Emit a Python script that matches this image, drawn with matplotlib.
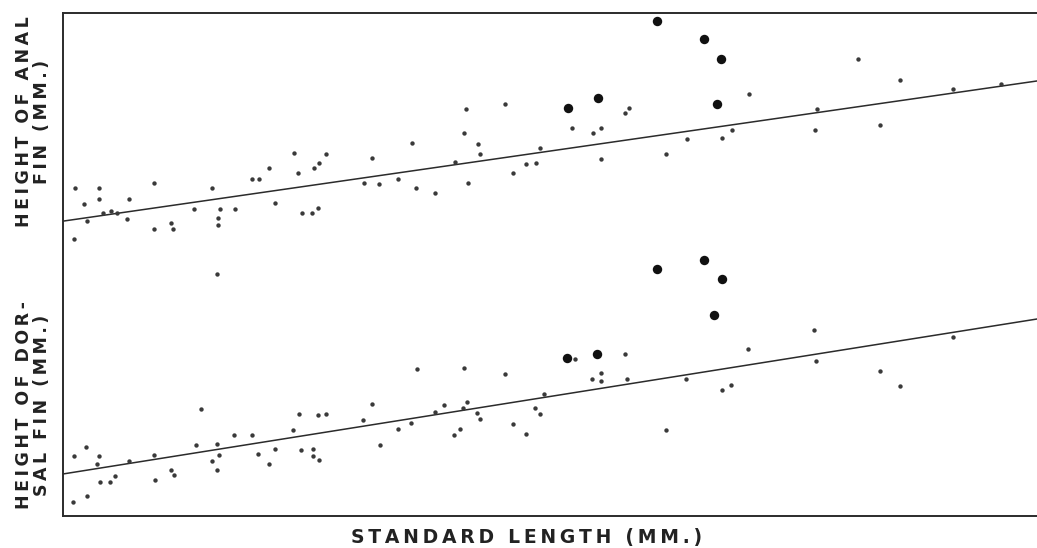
import numpy as np
import matplotlib
matplotlib.use("Agg")
import matplotlib.pyplot as plt

# =========================
# Data (arbitrary mm-like units)
# =========================
# height of anal fin - small dots
anal_len = [7.5, 8.4, 8.7, 9.9, 9.9, 10.3, 11.1, 11.7, 12.9, 12.7, 7.4, 15.4, 15.4, 17.1, 17.3,
            19.4, 21.2, 22.0, 21.8, 21.8, 23.5, 25.2, 25.9, 26.9, 27.5, 29.4, 29.8, 30.2, 31.2,
            31.8, 31.4, 31.9, 32.6, 46.6, 50.5, 62.5, 62.9, 57.2, 59.3, 60.1, 60.1, 46.4, 47.8,
            48.0, 45.5, 54.0, 52.6, 53.6, 51.3, 46.8, 37.2, 41.2, 36.4, 37.9, 39.8, 41.6, 43.5,
            66.6, 68.7, 74.9, 85.8, 90.0, 95.3, 100.1, 81.7, 81.5, 88.0, 72.2, 73.2]
anal_ht = [36.0, 34.4, 32.7, 36.0, 34.9, 33.5, 33.7, 33.5, 34.9, 32.9, 30.9, 36.5, 31.9, 32.5, 31.9,
           33.9, 36.0, 33.9, 33.0, 32.3, 33.9, 36.9, 36.9, 38.0, 34.5, 39.5, 37.5, 33.5, 33.5,
           34.0, 38.0, 38.5, 39.4, 43.9, 44.4, 43.5, 44.0, 42.0, 41.5, 42.0, 38.9, 41.5, 40.4,
           39.4, 38.6, 40.0, 38.4, 38.5, 37.5, 36.5, 39.0, 40.5, 36.5, 36.4, 36.9, 36.0, 35.5,
           39.4, 40.9, 45.4, 48.9, 46.8, 45.9, 46.4, 43.9, 41.8, 42.3, 41.0, 41.8]

# height of anal fin - large dots
anal_big_len = [65.7, 59.8, 56.8, 70.4, 72.1, 71.7]
anal_big_ht = [52.7, 45.0, 44.0, 50.9, 48.9, 44.4]

# height of dorsal fin - small dots
dorsal_len = [21.7, 7.4, 8.6, 9.9, 9.7, 10.0, 11.0, 11.5, 12.9, 7.3, 8.7, 15.4, 15.5, 17.1, 17.4,
              20.1, 19.6, 21.7, 21.2, 21.9, 21.7, 23.4, 25.2, 25.8, 26.9, 27.5, 29.3, 29.9, 30.1,
              31.3, 31.3, 31.9, 31.8, 32.6, 57.5, 62.5, 41.7, 46.4, 50.5, 59.2, 60.1, 60.1, 62.7,
              68.6, 54.4, 37.2, 36.3, 43.5, 44.4, 46.7, 46.3, 47.7, 48.0, 53.5, 54.0, 41.1, 39.8,
              46.0, 45.4, 51.3, 52.6, 38.0, 66.6, 81.4, 74.8, 81.6, 88.0, 90.0, 95.3, 72.2, 73.1]
dorsal_ht = [27.4, 9.2, 10.1, 9.2, 8.4, 6.6, 6.6, 7.2, 8.7, 4.6, 5.2, 9.3, 6.8, 7.8, 7.3,
             13.9, 10.3, 10.4, 8.7, 9.3, 7.8, 11.3, 11.3, 9.4, 8.4, 9.9, 11.8, 13.4, 9.8,
             9.9, 9.2, 8.8, 13.3, 13.4, 18.9, 19.4, 17.9, 18.0, 17.4, 16.9, 17.5, 16.7, 16.9,
             16.9, 15.4, 14.4, 12.8, 13.6, 14.3, 14.6, 14.0, 13.5, 12.9, 14.0, 13.4, 12.5, 11.9,
             11.9, 11.3, 12.4, 11.4, 10.3, 11.8, 21.8, 19.9, 18.7, 17.7, 16.2, 21.1, 15.8, 16.3]

# height of dorsal fin - large dots
dorsal_big_len = [65.7, 56.7, 59.7, 70.4, 72.2, 71.4]
dorsal_big_ht = [27.9, 19.0, 19.4, 28.8, 26.9, 23.3]

# fitted lines (intercept, slope)
anal_fit = (31.78, 0.1439)
dorsal_fit = (6.40, 0.1591)

X_MIN, X_MAX = 6.3, 103.7
Y_MIN, Y_MAX = 3.2, 53.5


def spaced(text):
    # wide letter spacing like the original lettering
    return "\n".join("\u2009".join(line) for line in text.split("\n"))


# =========================
# Plot
# =========================
fig = plt.figure(figsize=(10.37, 5.48), dpi=100)
ax = fig.add_axes([63 / 1037, 1 - 516 / 548, 1 - 63 / 1037, (516 - 13) / 548])

ink = "#2b2b2b"
ax.scatter(anal_len, anal_ht, s=10, color="#3a3a3a", linewidths=0, zorder=3)
ax.scatter(dorsal_len, dorsal_ht, s=10, color="#3a3a3a", linewidths=0, zorder=3)
ax.scatter(anal_big_len, anal_big_ht, s=46, color="#111111", linewidths=0, zorder=4)
ax.scatter(dorsal_big_len, dorsal_big_ht, s=46, color="#111111", linewidths=0, zorder=4)

xs = np.array([X_MIN, X_MAX])
ax.plot(xs, anal_fit[0] + anal_fit[1] * xs, color=ink, lw=1.1, zorder=2)
ax.plot(xs, dorsal_fit[0] + dorsal_fit[1] * xs, color=ink, lw=1.1, zorder=2)

ax.set_xlim(X_MIN, X_MAX)
ax.set_ylim(Y_MIN, Y_MAX)
ax.set_xticks([])
ax.set_yticks([])
ax.spines["right"].set_visible(False)
for side in ["left", "top", "bottom"]:
    ax.spines[side].set_color(ink)
    ax.spines[side].set_linewidth(1.4)

lab = dict(color="#222222", fontsize=12.5, fontweight="bold", rotation=90,
           ha="center", va="center", linespacing=1.0, multialignment="center")
fig.text(33 / 1037, 1 - 122 / 548, spaced("HEIGHT OF ANAL\nFIN (MM.)"), **lab)
fig.text(33 / 1037, 1 - 405 / 548, spaced("HEIGHT OF DOR-\nSAL FIN (MM.)"), **lab)
fig.text(527 / 1037, 1 - 538 / 548, spaced("STANDARD LENGTH (MM.)"), color="#222222",
         fontsize=13.5, fontweight="bold", ha="center", va="center")

fig.savefig("out.png", dpi=100)
